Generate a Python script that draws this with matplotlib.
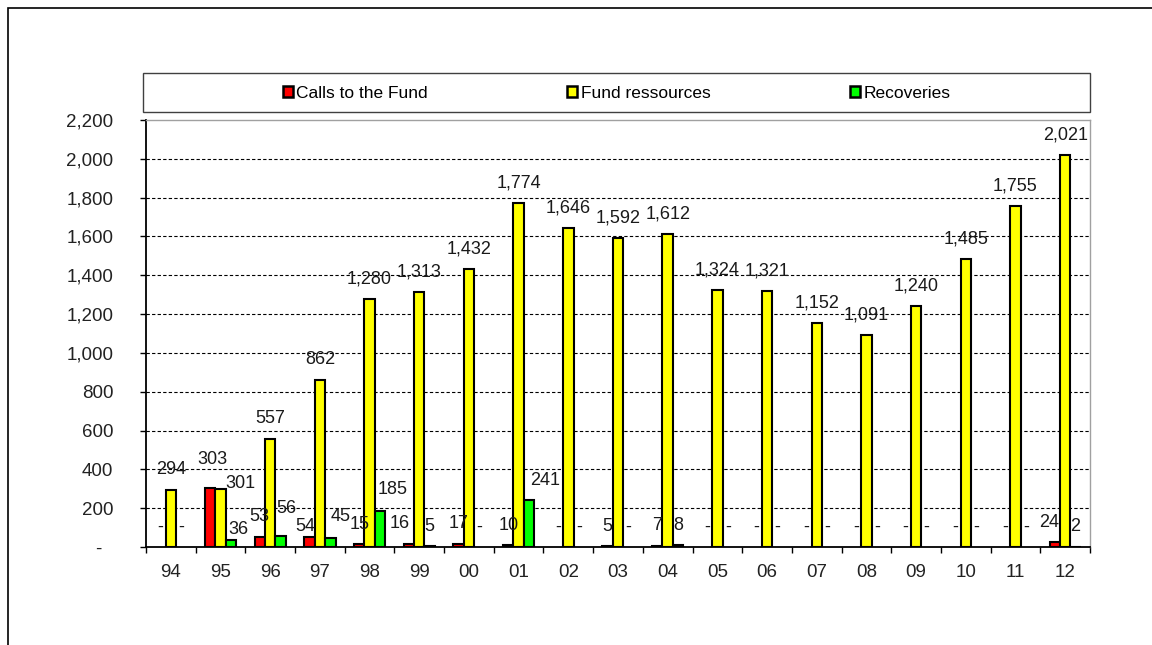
import matplotlib
matplotlib.use("Agg")
import matplotlib.pyplot as plt
import numpy as np
from matplotlib.patches import Patch, Rectangle
from matplotlib.ticker import FuncFormatter

plt.rcParams["font.family"] = ["Liberation Sans", "DejaVu Sans"]

# data
years = ["94", "95", "96", "97", "98", "99", "00", "01", "02", "03",
         "04", "05", "06", "07", "08", "09", "10", "11", "12"]
calls = [0, 303, 53, 54, 15, 16, 17, 10, 0, 5, 7, 0, 0, 0, 0, 0, 0, 0, 24]
fund = [294, 301, 557, 862, 1280, 1313, 1432, 1774, 1646, 1592,
        1612, 1324, 1321, 1152, 1091, 1240, 1485, 1755, 2021]
recoveries = [0, 36, 56, 45, 185, 5, 0, 241, 0, 0, 8, 0, 0, 0, 0, 0, 0, 0, 2]

series_names = ["Calls to the Fund", "Fund ressources", "Recoveries"]
series_colors = ["#ff0000", "#ffff00", "#00ff00"]

# hand-placed label nudges (pixels), as in the original sheet
label_nudge = {
    (0, 1): (2, 9), (0, 3): (-4, -10), (0, 5): (-9, 0), (0, 18): (-6, 0),
    (1, 1): (20, -15),
    (2, 1): (7, -9), (2, 2): (6, 8), (2, 3): (10, 2), (2, 4): (13, 2),
    (2, 7): (16, 0),
}

W, H = 1152, 645
fig = plt.figure(figsize=(W / 100, H / 100), dpi=100)

# outer frame (cut at right/bottom like the source image)
fig.add_artist(Rectangle((8 / W, -0.1), 1.2, 1.1 - 8 / H, transform=fig.transFigure,
                         fill=False, edgecolor="black", lw=1.2))

ax = fig.add_axes([146 / W, 1 - 547 / H, (1090 - 146) / W, (547 - 120) / H])

x = np.arange(len(years))
width = 0.21
for k, (vals, color) in enumerate(zip([calls, fund, recoveries], series_colors)):
    vals = np.array(vals)
    lw = np.where(vals > 0, 1.5, 0.0)
    ax.bar(x + (k - 1) * width, vals, width, color=color, edgecolor="black",
           linewidth=lw, zorder=3)
    for i, v in enumerate(vals):
        dx, dy = label_nudge.get((k, i), (0, 0))
        txt = "-" if v == 0 else f"{v:,}"
        ax.annotate(txt, (x[i] + (k - 1) * width, v), xytext=(dx, 20 + dy),
                    textcoords="offset pixels", ha="center", va="center",
                    fontsize=13, color="#1a1a1a", zorder=4)

ax.set_xlim(-0.5, len(years) - 0.5)
ax.set_ylim(0, 2200)

for y in range(200, 2200, 200):
    ax.axhline(y, color="black", lw=0.8, linestyle=(0, (3, 2)), zorder=1)

ax.set_yticks(range(0, 2201, 200))
ax.yaxis.set_major_formatter(FuncFormatter(lambda v, p: "-  " if v == 0 else f"{int(v):,}"))
ax.tick_params(axis="y", length=4.5, width=1, pad=19, labelsize=13.5,
               labelcolor="#222222")

ax.set_xticks(np.arange(-0.5, len(years), 1))
ax.set_xticklabels([])
ax.set_xticks(x, minor=True)
ax.set_xticklabels(years, minor=True)
ax.tick_params(axis="x", which="major", length=4.5, width=1)
ax.tick_params(axis="x", which="minor", length=0, pad=12, labelsize=13.5,
               labelcolor="#222222")

for side in ["top", "right"]:
    ax.spines[side].set_color("#a0a0a0")
    ax.spines[side].set_linewidth(1)
for side in ["left", "bottom"]:
    ax.spines[side].set_color("black")
    ax.spines[side].set_linewidth(1.3)

# legend box across the top
fig.add_artist(Rectangle((143 / W, 1 - 112 / H), (1090 - 143) / W, 39 / H,
                         transform=fig.transFigure, fill=False,
                         edgecolor="#404040", lw=1))
handles = [Patch(facecolor=c, edgecolor="black", linewidth=1.8) for c in series_colors]
fig.legend(handles=handles, labels=series_names, loc="center",
           bbox_to_anchor=((143 + 1090) / 2 / W, 1 - 93 / H), ncol=3,
           frameon=False, fontsize=12.5, handlelength=0.6, handleheight=0.65,
           handletextpad=0.2, columnspacing=8.0, borderaxespad=0)

fig.savefig("out.png", dpi=100)
